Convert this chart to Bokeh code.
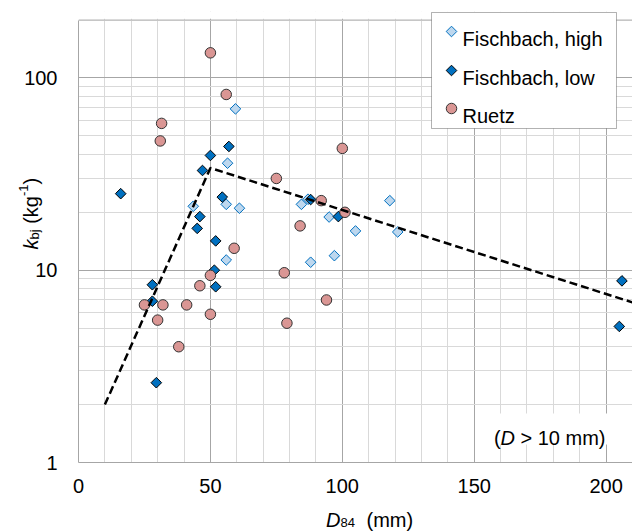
import math
import numpy as np
from bokeh.plotting import figure
from bokeh.layouts import column
from bokeh.models import (FixedTicker, PrintfTickFormatter, Label, BoxAnnotation, Span,
                          Range1d)
from bokeh.embed import file_html
from bokeh.resources import INLINE

# ---- data: D84 (mm) and k_bj (1/kg) ----
fh_d84 = [59.5, 56.5, 43.5, 56, 61, 56, 84.5, 87, 95, 118, 105, 121, 97, 88]
fh_kbj = [69, 36, 21.5, 22, 21, 11.3, 22, 23.4, 18.9, 23, 16, 15.8, 11.9, 11]

fl_d84 = [16, 57, 50, 47, 54.5, 46, 45, 52, 51.5, 52, 28, 28, 29.5, 88, 98.5, 206, 205]
fl_kbj = [25, 44, 39.5, 33, 24, 19, 16.5, 14.2, 10, 8.2, 8.4, 6.9, 2.6, 23.3, 19, 8.8, 5.1]

ru_d84 = [50, 56, 31.5, 31, 75, 100, 92, 101, 84, 59, 78, 50, 79, 94, 46, 25, 32, 41, 30, 50, 38]
ru_kbj = [135, 82, 58, 47, 30, 43, 23, 20, 17, 13, 9.7, 9.4, 5.3, 7.0, 8.3, 6.6, 6.6, 6.6, 5.5, 5.9, 4.0]

# piecewise trend (break at D84 = 50 mm)
fit_d84 = [10, 50, 210]
fit_kbj = [2.0, 34, 6.8]

x_ticks = [0, 50, 100, 150, 200]
x_minor = [v for v in range(10, 211, 10) if v % 50]
y_ticks = [1, 10, 100]
y_minor = [m * d for d in (1, 10, 100) for m in range(2, 10) if m * d <= 200]

legend_names = ["Fischbach, high", "Fischbach, low", "Ruetz"]

# ---- page geometry (pixels from the page's top-left) ----
W, H = 632, 531
FL, FR, FT, FB = 78, 632, 11, 462      # plotting frame on the page
TOP200 = 19.5                          # page row of the 200 grid line
X0, X1, Y0 = 0, 210, 1
DEC = (FB - TOP200) / math.log10(200)  # pixels per decade
Y1 = 10 ** ((FB - FT) / DEC)           # headroom above 200 for the legend frame
OV_DY = 7                              # vertical offset of the title layer


def dx(px):
    return X0 + (px - FL) / (FR - FL) * (X1 - X0)


def dy(py):
    return 10 ** ((FB - py) / DEC)


def sx(px):
    return px - FL


def sy(py):
    return FB - py


FONT = "Liberation Sans"
BLUE = "#0070C0"
LIGHT = "#BDD7EE"
PINK = "#DA9694"

p = figure(width=W, height=H, x_range=(X0, X1), y_range=(Y0, Y1),
           y_axis_type="log", output_backend="svg", toolbar_location=None, title=None,
           min_border_left=FL, min_border_right=W - FR, min_border_top=FT,
           min_border_bottom=H - FB)
p.frame_align = False
p.background_fill_color = "white"
p.border_fill_color = "white"
p.outline_line_color = None

# axes
p.xaxis.ticker = FixedTicker(ticks=x_ticks, minor_ticks=x_minor)
p.yaxis.ticker = FixedTicker(ticks=y_ticks, minor_ticks=y_minor)
p.yaxis.formatter = PrintfTickFormatter(format="%d")
p.yaxis.bounds = (1, 200)
for ax in (p.xaxis, p.yaxis):
    ax.axis_line_color = "#a6a6a6"
    ax.major_tick_line_color = None
    ax.minor_tick_line_color = None
    ax.major_tick_out = 0
    ax.major_tick_in = 0
    ax.major_label_text_font = FONT
    ax.major_label_text_font_size = "20px"
    ax.major_label_text_color = "#000000"
p.xaxis.major_label_standoff = 12
p.yaxis.major_label_standoff = 17

# grid
for g in (p.xgrid, p.ygrid):
    g.grid_line_color = "#a6a6a6"
    g.grid_line_width = 1
    g.minor_grid_line_color = "#d9d9d9"
    g.minor_grid_line_width = 1


def box(l, r, t, b, **kw):
    return BoxAnnotation(left=sx(l), right=sx(r), top=sy(t), bottom=sy(b),
                         left_units="screen", right_units="screen",
                         top_units="screen", bottom_units="screen",
                         fill_color="white", fill_alpha=1, level="underlay", **kw)


# blank band above the 200 line, then the plot-area top edge
p.add_layout(box(FL, FR + 2, FT - 2, TOP200 - 1.2, line_color=None))
p.add_layout(Span(location=200, dimension="width", line_color="#b4b4b4", line_width=1,
                  level="underlay"))

# white box behind the size note
p.add_layout(box(488, 613, 413, 444, line_color=None))

# legend frame
p.add_layout(box(431, 616, 12, 128, line_color="black", line_width=1))

# data
p.scatter(fh_d84, fh_kbj, marker="square", angle=np.pi / 4, size=7.5,
          fill_color=LIGHT, line_color=BLUE, line_width=1)
p.scatter(fl_d84, fl_kbj, marker="square", angle=np.pi / 4, size=7.5,
          fill_color=BLUE, line_color="black", line_width=1)
p.scatter(ru_d84, ru_kbj, marker="circle", size=10.5,
          fill_color=PINK, line_color="#333333", line_width=1)
p.line(fit_d84, fit_kbj, line_color="black", line_width=2.5, line_dash="8 4")

# legend entries
leg_x = dx(451)
leg_rows = [31, 70, 108]
p.scatter([leg_x], [dy(leg_rows[0])], marker="square", angle=np.pi / 4, size=7.5,
          fill_color=LIGHT, line_color=BLUE, line_width=1)
p.scatter([leg_x], [dy(leg_rows[1])], marker="square", angle=np.pi / 4, size=7.5,
          fill_color=BLUE, line_color="black", line_width=1)
p.scatter([leg_x], [dy(leg_rows[2])], marker="circle", size=10.5,
          fill_color=PINK, line_color="#333333", line_width=1)


def txt(fig, x, y, s, size="20px", style="normal", angle=0.0, units="data"):
    fig.add_layout(Label(x=x, y=y, x_units=units, y_units=units,
                         text=s, text_font=FONT, text_font_size=size,
                         text_font_style=style, text_color="black", angle=angle,
                         text_baseline="alphabetic", text_align="left"))


def main_txt(px, py, s, **kw):
    txt(p, sx(px), sy(py), s, units="screen", **kw)


for name, r_ in zip(legend_names, leg_rows):
    main_txt(462, r_ + 7, name)

# note
main_txt(493.5, 437, "(")
main_txt(500, 437, "D", style="italic")
main_txt(520, 437, "> 10 mm)")

# transparent full-page layer (pulled up over the plot) for the axis titles
ov = figure(width=W, height=H, x_range=Range1d(0, W), y_range=Range1d(0, H),
            output_backend="svg", toolbar_location=None, title=None,
            x_axis_location=None, y_axis_location=None, min_border=0,
            margin=(-H, 0, 0, 0))
ov.frame_align = False
ov.grid.visible = False
ov.outline_line_color = None
ov.background_fill_alpha = 0
ov.border_fill_alpha = 0


def ov_txt(px, py, s, **kw):
    txt(ov, px, H - py + OV_DY, s, **kw)


# x axis title: D84 (mm)
ov_txt(325.5, 526, "D", style="italic")
ov_txt(340, 529, "84", size="13px")
ov_txt(366, 526, "(mm)")

# y axis title: k_bj (kg^-1), reading upwards
ang = np.pi / 2
ov_txt(30, 256, "k", style="italic", angle=ang)
ov_txt(34, 246, "bj", size="13px", angle=ang)
ov_txt(30, 230.3, "(kg", angle=ang)
ov_txt(23, 202.6, "-1", size="13px", angle=ang)
ov_txt(30, 191, ")", angle=ang)

page = column(p, ov, spacing=0)

open("out.html", "w").write(file_html(page, INLINE))
